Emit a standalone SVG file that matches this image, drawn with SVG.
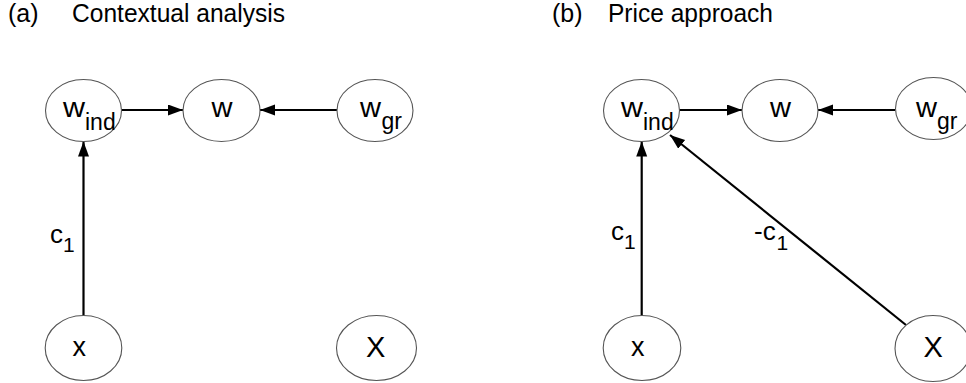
<svg xmlns="http://www.w3.org/2000/svg" width="966" height="383" viewBox="0 0 966 383">
<defs>
<marker id="ah" markerUnits="userSpaceOnUse" markerWidth="16" markerHeight="12" refX="15" refY="5.5" orient="auto">
<path d="M0,0 L15,5.5 L0,11 z" fill="#000"/>
</marker>
<style>
text{font-family:"Liberation Sans",Arial,sans-serif;fill:#000}
.t{font-size:25px}
.n{font-size:27px}
.s{font-size:23px}
.X{font-size:29px}
.lab{font-size:26px}
.sub{font-size:21px}
ellipse{fill:#fff;stroke:#555;stroke-width:1.1}
.e{stroke:#000;stroke-width:2.2;fill:none;marker-end:url(#ah)}
</style>
</defs>
<rect width="966" height="383" fill="#fff"/>
<g id="titles">
<text class="t" x="8" y="22">(a)</text>
<text class="t" x="72" y="22" textLength="213" lengthAdjust="spacingAndGlyphs">Contextual analysis</text>
<text class="t" x="552" y="22">(b)</text>
<text class="t" x="608" y="22" textLength="165" lengthAdjust="spacingAndGlyphs">Price approach</text>
</g>
<g id="connectors">
<line class="e" x1="121.5" y1="110" x2="183" y2="110"/>
<line class="e" x1="337" y1="110" x2="260" y2="110"/>
<line class="e" x1="83.5" y1="316" x2="83.5" y2="141.5"/>
<line class="e" x1="679" y1="110" x2="742" y2="110"/>
<line class="e" x1="895" y1="110" x2="818" y2="110"/>
<line class="e" x1="641.7" y1="315" x2="641.7" y2="141.5"/>
<line class="e" x1="906" y1="325" x2="670" y2="135"/>
<text class="lab" x="50" y="243">c</text><text class="sub" x="63" y="252">1</text>
<text class="lab" x="611" y="240">c</text><text class="sub" x="624" y="249">1</text>
<text class="lab" x="754" y="239.5">-c</text><text class="sub" x="776.5" y="250">1</text>
</g>
<g id="a_wind">
<ellipse cx="83.5" cy="110.5" rx="38" ry="31"/>
<text class="n" x="63" y="117" textLength="22" lengthAdjust="spacingAndGlyphs">w</text><text class="s" x="85" y="130">ind</text>
</g>
<g id="a_w">
<ellipse cx="221.5" cy="110.5" rx="38.5" ry="31"/>
<text class="n" x="211.5" y="117" textLength="21" lengthAdjust="spacingAndGlyphs">w</text>
</g>
<g id="a_wgr">
<ellipse cx="375" cy="110.5" rx="38" ry="31"/>
<text class="n" x="360" y="117" textLength="21" lengthAdjust="spacingAndGlyphs">w</text><text class="s" x="381.5" y="129">gr</text>
</g>
<g id="a_x">
<ellipse cx="83.5" cy="348" rx="38.3" ry="32.5"/>
<text class="n" x="72.5" y="356">x</text>
</g>
<g id="a_X">
<ellipse cx="376.5" cy="348" rx="40" ry="32.5"/>
<text class="X" x="366" y="357">X</text>
</g>
<g id="b_wind">
<ellipse cx="641.5" cy="110.5" rx="38" ry="31"/>
<text class="n" x="621" y="117" textLength="22" lengthAdjust="spacingAndGlyphs">w</text><text class="s" x="643" y="130">ind</text>
</g>
<g id="b_w">
<ellipse cx="780" cy="110.5" rx="38" ry="31"/>
<text class="n" x="770" y="117" textLength="21" lengthAdjust="spacingAndGlyphs">w</text>
</g>
<g id="b_wgr">
<ellipse cx="933.5" cy="108.5" rx="38" ry="31"/>
<text class="n" x="916" y="117" textLength="21" lengthAdjust="spacingAndGlyphs">w</text><text class="s" x="937" y="129">gr</text>
</g>
<g id="b_x">
<ellipse cx="642" cy="348" rx="38.8" ry="32.5"/>
<text class="n" x="631" y="356">x</text>
</g>
<g id="b_X">
<ellipse cx="933" cy="348.5" rx="38" ry="33"/>
<text class="X" x="923.5" y="357">X</text>
</g>
</svg>
